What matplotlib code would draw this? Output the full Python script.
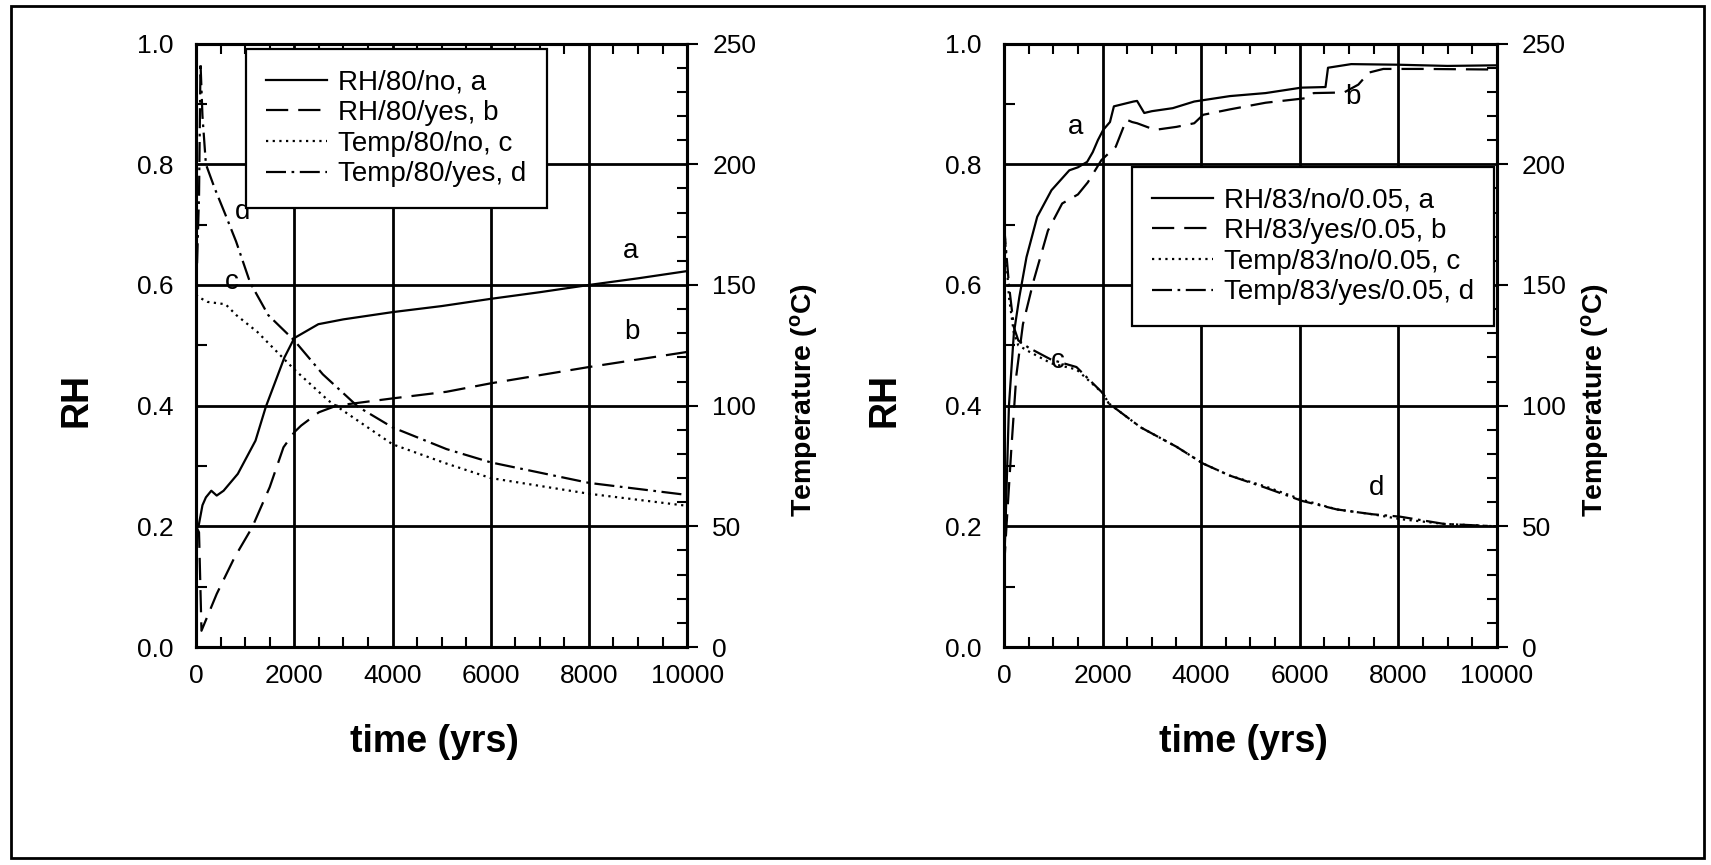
import matplotlib
matplotlib.use("Agg")
import matplotlib.pyplot as plt
from matplotlib.patches import Rectangle
from matplotlib.ticker import MultipleLocator, FormatStrFormatter

plt.rcParams['font.family'] = ['Liberation Sans', 'DejaVu Sans']
plt.rcParams['mathtext.fontset'] = 'custom'
plt.rcParams['mathtext.rm'] = 'Liberation Sans'
plt.rcParams['mathtext.bf'] = 'Liberation Sans:bold'

# ---------------- data: left panel ----------------
left_a_t = [0, 50, 130, 200, 310, 420, 560, 850, 1210, 1420, 1800, 2000, 2490, 3000, 4000, 5000, 6000, 7000, 8000, 9000, 10000]
left_a_rh = [0.20, 0.20, 0.235, 0.248, 0.259, 0.251, 0.259, 0.287, 0.342, 0.398, 0.48, 0.512, 0.535, 0.543, 0.555, 0.565, 0.577, 0.588, 0.600, 0.611, 0.623]

left_b_t = [0, 60, 110, 420, 780, 1140, 1500, 1780, 2000, 2140, 2500, 2860, 4000, 5100, 6000, 8000, 10000]
left_b_rh = [0.20, 0.19, 0.027, 0.088, 0.148, 0.198, 0.265, 0.331, 0.356, 0.367, 0.389, 0.400, 0.412, 0.423, 0.437, 0.464, 0.489]

left_c_t = [0, 50, 230, 600, 820, 1250, 2000, 2700, 4000, 5100, 6000, 8000, 10000]
left_c_temp = [146, 145, 143, 142, 137.5, 130.5, 115, 102, 84, 76, 70, 63.5, 58.5]

left_d_t = [0, 60, 90, 130, 200, 380, 600, 815, 1100, 1470, 2000, 2580, 3300, 4000, 5100, 6000, 8000, 10000]
left_d_temp = [145, 187, 242, 220, 200, 190, 179, 168, 151, 137.5, 127, 113, 99.5, 91, 82, 76.5, 68, 63]

left_labels = ["RH/80/no, a", "RH/80/yes, b", "Temp/80/no, c", "Temp/80/yes, d"]

# ---------------- data: right panel ----------------
right_a_t = [0, 30, 100, 200, 311, 456, 674, 963, 1325, 1500, 1687, 1800, 1905, 2013, 2150, 2230, 2628, 2700, 2846, 3000, 3425, 3860, 4584, 5308, 6032, 6524, 6575, 7045, 8000, 9000, 10000]
right_a_rh = [0.13, 0.20, 0.40, 0.52, 0.58, 0.646, 0.713, 0.757, 0.79, 0.795, 0.804, 0.82, 0.84, 0.857, 0.87, 0.896, 0.904, 0.905, 0.885, 0.888, 0.893, 0.904, 0.913, 0.918, 0.927, 0.928, 0.96, 0.966, 0.965, 0.963, 0.964]

right_b_t = [0, 50, 150, 250, 384, 601, 891, 1180, 1500, 1700, 1977, 2267, 2484, 2600, 2701, 3063, 3500, 3860, 4041, 4584, 5308, 6177, 6285, 6900, 7190, 7407, 7697, 8500, 10000]
right_b_rh = [0.13, 0.20, 0.33, 0.45, 0.535, 0.607, 0.69, 0.735, 0.75, 0.77, 0.807, 0.829, 0.874, 0.870, 0.868, 0.857, 0.862, 0.868, 0.882, 0.891, 0.902, 0.910, 0.918, 0.919, 0.932, 0.952, 0.958, 0.958, 0.957]

right_cd_t = [0, 100, 200, 290, 500, 963, 1470, 2013, 2122, 2774, 3498, 4041, 4584, 5308, 6054, 6756, 7480, 8040, 8929, 10000]
right_c_temp = [175, 145, 130, 125, 122.5, 117.5, 115, 105, 101, 91, 83, 76, 71, 66.5, 61, 57, 55, 53, 51, 50]
right_d_temp = [175, 150, 132.5, 127, 124, 119, 116, 105, 101, 91, 83, 76, 71, 66, 60.5, 57, 55, 54, 51, 50]

right_labels = ["RH/83/no/0.05, a", "RH/83/yes/0.05, b", "Temp/83/no/0.05, c", "Temp/83/yes/0.05, d"]

# annotation letters (x, RH-axis y)
left_notes = [("a", 8850, 0.635), ("b", 8870, 0.50), ("c", 727, 0.583), ("d", 945, 0.70)]
right_notes = [("a", 1455, 0.84), ("b", 7082, 0.89), ("c", 1083, 0.453), ("d", 7560, 0.242)]

# ---------------- styles ----------------
LW = 1.6
ST_A = '-'
ST_B = (0, (10, 4.5))
ST_C = (0, (1, 2))
ST_D = (0, (9, 2.5, 1.2, 2.5))
FS_TICK = 19
FS_LEG = 20
FS_LAB = 27
FS_TLAB = 20.5

fig = plt.figure(figsize=(17.11, 8.65), dpi=100)
fig.add_artist(Rectangle((0.0064, 0.0084), 0.9896, 0.985, transform=fig.transFigure,
                         fill=False, edgecolor='black', linewidth=2))


def make_panel(rect, a, b, c, d, labels, notes, leg_anchor, rh_x, temp_x):
    ax = fig.add_axes(rect)
    ax2 = ax.twinx()
    ax.set_xlim(0, 10000)
    ax.set_ylim(0, 1.0)
    ax2.set_ylim(0, 250)
    la, = ax.plot(a[0], a[1], color='black', lw=LW, linestyle=ST_A)
    lb, = ax.plot(b[0], b[1], color='black', lw=LW, linestyle=ST_B)
    lc, = ax2.plot(c[0], c[1], color='black', lw=LW, linestyle=ST_C)
    ld, = ax2.plot(d[0], d[1], color='black', lw=LW, linestyle=ST_D)

    ax.xaxis.set_major_locator(MultipleLocator(2000))
    ax.xaxis.set_minor_locator(MultipleLocator(500))
    ax.yaxis.set_major_locator(MultipleLocator(0.2))
    ax.yaxis.set_minor_locator(MultipleLocator(0.1))
    ax.yaxis.set_major_formatter(FormatStrFormatter('%.1f'))
    ax.grid(True, which='major', color='black', linewidth=2.0)

    ax.tick_params(axis='x', which='both', direction='in', top=True, bottom=True,
                   labelsize=FS_TICK, pad=12, width=1.5)
    ax.tick_params(axis='x', which='major', length=0)
    ax.tick_params(axis='x', which='minor', length=7)
    ax.tick_params(axis='y', which='both', direction='in', left=True, right=False,
                   labelsize=FS_TICK, width=1.5)
    ax.tick_params(axis='y', which='major', length=0, pad=16)
    ax.tick_params(axis='y', which='minor', length=8)

    ax2.yaxis.set_major_locator(MultipleLocator(50))
    ax2.yaxis.set_minor_locator(MultipleLocator(10))
    ax2.tick_params(axis='y', which='major', direction='out', length=8, width=1.5,
                    labelsize=FS_TICK, pad=10)
    ax2.tick_params(axis='y', which='minor', direction='in', length=7, width=1.5)

    for s in ax.spines.values():
        s.set_linewidth(2.2)
    for s in ax2.spines.values():
        s.set_linewidth(2.2)

    ax.set_xlabel("time (yrs)", fontsize=FS_LAB, fontweight='bold')
    ax.xaxis.set_label_coords(0.485, -0.128)
    ax.set_ylabel("RH", fontsize=FS_LAB, fontweight='bold')
    ax.yaxis.set_label_coords(rh_x, 0.41)
    ax2.set_ylabel(r"Temperature ($\mathbf{^o}$C)", fontsize=FS_TLAB, fontweight='bold')
    ax2.yaxis.set_label_coords(temp_x, 0.41)

    for txt, x, y in notes:
        ax.text(x, y, txt, fontsize=FS_LEG, ha='center', va='bottom')

    leg = ax2.legend([la, lb, lc, ld], labels, loc='upper left',
                     bbox_to_anchor=leg_anchor, bbox_transform=ax.transAxes,
                     fontsize=FS_LEG, frameon=True, fancybox=False,
                     handlelength=2.2, labelspacing=0.17, borderpad=0.73,
                     handletextpad=0.4, borderaxespad=0)
    leg.get_frame().set_edgecolor('black')
    leg.get_frame().set_linewidth(1.6)
    leg.get_frame().set_alpha(1)
    return ax, ax2


make_panel([0.1146, 0.252, 0.287, 0.6976],
           (left_a_t, left_a_rh), (left_b_t, left_b_rh),
           (left_c_t, left_c_temp), (left_d_t, left_d_temp),
           left_labels, left_notes, (0.1008, 0.991), -0.206, 1.206)

make_panel([0.5868, 0.252, 0.288, 0.6976],
           (right_a_t, right_a_rh), (right_b_t, right_b_rh),
           (right_cd_t, right_c_temp), (right_cd_t, right_d_temp),
           right_labels, right_notes, (0.2588, 0.7955), -0.205, 1.166)

fig.savefig("out.png", dpi=100)
